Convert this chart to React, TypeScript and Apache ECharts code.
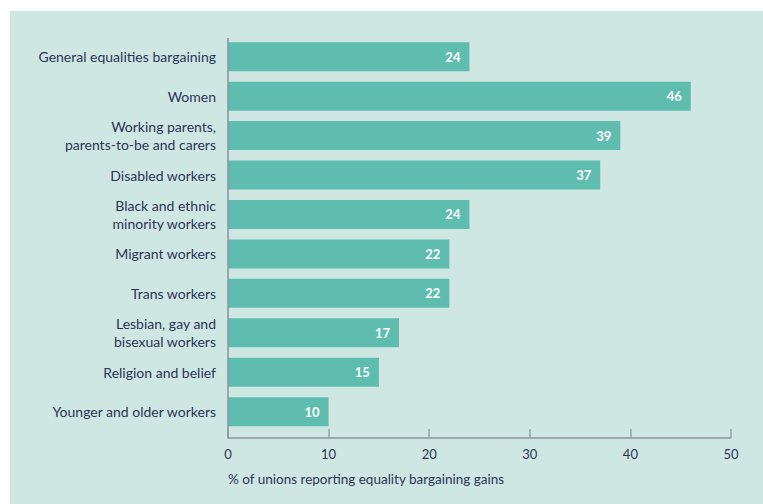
import React, { useEffect, useRef } from "react";
import * as echarts from "echarts";

const categories = [
  "General equalities bargaining",
  "Women",
  "Working parents,\nparents-to-be and carers",
  "Disabled workers",
  "Black and ethnic\nminority workers",
  "Migrant workers",
  "Trans workers",
  "Lesbian, gay and\nbisexual workers",
  "Religion and belief",
  "Younger and older workers",
];
const values = [24, 46, 39, 37, 24, 22, 22, 17, 15, 10];
const xTicks = [0, 10, 20, 30, 40, 50];
const axisTitle = "% of unions reporting equality bargaining gains";

const TEXT = "#2b3457";
const AXIS = "#8d91a3";
const FONT = "Lato, 'Open Sans', sans-serif";

export default function App() {
  const ref = useRef<HTMLDivElement>(null);
  useEffect(() => {
    const chart = echarts.init(ref.current!, null, { renderer: "svg" });
    chart.setOption({
      animation: false,
      backgroundColor: "transparent",
      textStyle: { fontFamily: FONT },
      grid: { left: 228, right: 32, top: 37, bottom: 72.6, containLabel: false },
      graphic: [
        {
          type: "line",
          shape: { x1: 228, y1: 38, x2: 228, y2: 438 },
          style: { stroke: AXIS, lineWidth: 1.5 },
          z: 10,
        },
      ],
      xAxis: {
        type: "value",
        min: xTicks[0],
        max: xTicks[xTicks.length - 1],
        interval: 10,
        offset: 6.6,
        name: axisTitle,
        nameLocation: "start",
        nameGap: 0,
        nameTextStyle: {
          color: TEXT,
          fontSize: 13.5,
          fontFamily: FONT,
          align: "left",
          verticalAlign: "top",
          padding: [34, 0, 0, 0],
        },
        splitLine: { show: false },
        axisLine: { show: true, lineStyle: { color: AXIS, width: 1.5 } },
        axisTick: { show: true, inside: true, length: 9, lineStyle: { color: "#9aa0b0", width: 1.5 } },
        axisLabel: { color: TEXT, fontSize: 13, fontFamily: FONT, margin: 9 },
      },
      yAxis: {
        type: "category",
        inverse: true,
        data: categories,
        axisLine: { show: false },
        axisTick: { show: false },
        axisLabel: {
          color: TEXT,
          fontSize: 14,
          fontFamily: FONT,
          margin: 12,
          lineHeight: 18,
          align: "right",
        },
      },
      series: [
        {
          type: "bar",
          data: values,
          barCategoryGap: "26.5%",
          itemStyle: { color: "#5ebdae" },
          label: {
            show: true,
            position: "insideRight",
            distance: 9,
            color: "#ffffff",
            fontWeight: "bold",
            fontSize: 13,
            fontFamily: FONT,
          },
        },
      ],
    });
    return () => chart.dispose();
  }, []);
  return (
    <div style={{ position: "fixed", left: 0, top: 0, width: 763, height: 504, background: "#ffffff" }}>
      <div style={{ position: "absolute", left: 10, top: 11, width: 753, height: 493, background: "#cfe7e3" }} />
      <div ref={ref} style={{ position: "absolute", left: 0, top: 0, width: 763, height: 504 }} />
    </div>
  );
}
